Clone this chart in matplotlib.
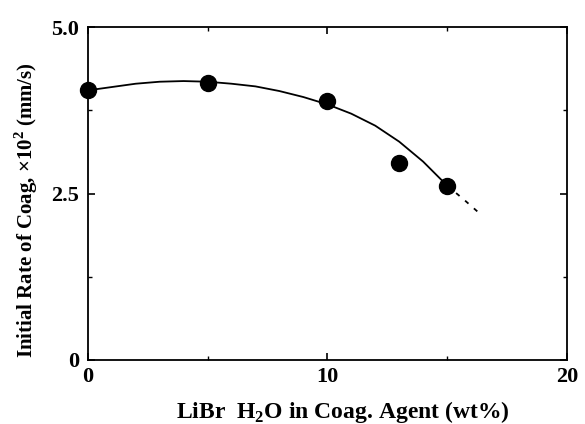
import matplotlib
matplotlib.use('Agg')
import matplotlib.pyplot as plt
from matplotlib.ticker import MultipleLocator

plt.rcParams['font.family'] = 'Liberation Serif'
plt.rcParams['font.weight'] = 'bold'
plt.rcParams['axes.labelweight'] = 'bold'
plt.rcParams['mathtext.fontset'] = 'custom'
plt.rcParams['mathtext.rm'] = 'Liberation Serif:bold'
plt.rcParams['mathtext.bf'] = 'Liberation Serif:bold'

# measured points
libr_wt = [0, 5, 10, 13, 15]
rate = [4.05, 4.16, 3.89, 2.96, 2.61]

# fitted curve (solid part, then dashed extrapolation)
curve_x = [0, 1, 2, 3, 4, 5, 6, 7, 8, 9, 10, 11, 12, 13, 14, 15]
curve_y = [4.05, 4.10, 4.15, 4.18, 4.19, 4.18, 4.15, 4.11, 4.04, 3.95,
           3.84, 3.70, 3.52, 3.28, 2.98, 2.62]
dash_x = [15, 15.7, 16.3]
dash_y = [2.62, 2.41, 2.22]

fig = plt.figure(figsize=(5.85, 4.24), dpi=100)
ax = fig.add_axes([0.150, 0.151, 0.819, 0.785])

ax.plot(curve_x, curve_y, color='black', lw=1.3)
ax.plot(dash_x, dash_y, color='black', lw=1.3, ls=(0, (2.5, 4)))
ax.plot(libr_wt, rate, 'o', color='black', ms=11.5, clip_on=False, zorder=5)

ax.set_xlim(0, 20)
ax.set_ylim(0, 5.0)
ax.xaxis.set_major_locator(MultipleLocator(10))
ax.xaxis.set_minor_locator(MultipleLocator(5))
ax.yaxis.set_minor_locator(MultipleLocator(1.25))
ax.set_yticks([0, 2.5, 5.0])
ax.set_yticklabels(['0', '2.5', '5.0'])
ax.tick_params(which='both', direction='in', top=True, right=True, labelsize=16)
ax.tick_params(which='major', length=5, width=1.2)
ax.tick_params(axis='x', pad=5)
ax.tick_params(axis='y', pad=6)
ax.tick_params(which='minor', length=3, width=1.0)
for s in ax.spines.values():
    s.set_linewidth(1.3)

ax.set_xlabel(r'LiBr  H$_\mathregular{2}$O in Coag. Agent (wt%)', fontsize=17)
ax.set_ylabel(r'Initial Rate of Coag, ×10$^\mathregular{2}$ (mm/s)', fontsize=15)
ax.xaxis.set_label_coords(0.532, -0.117)
ax.yaxis.set_label_coords(-0.10, 0.45)

fig.savefig('out.png', dpi=100)
